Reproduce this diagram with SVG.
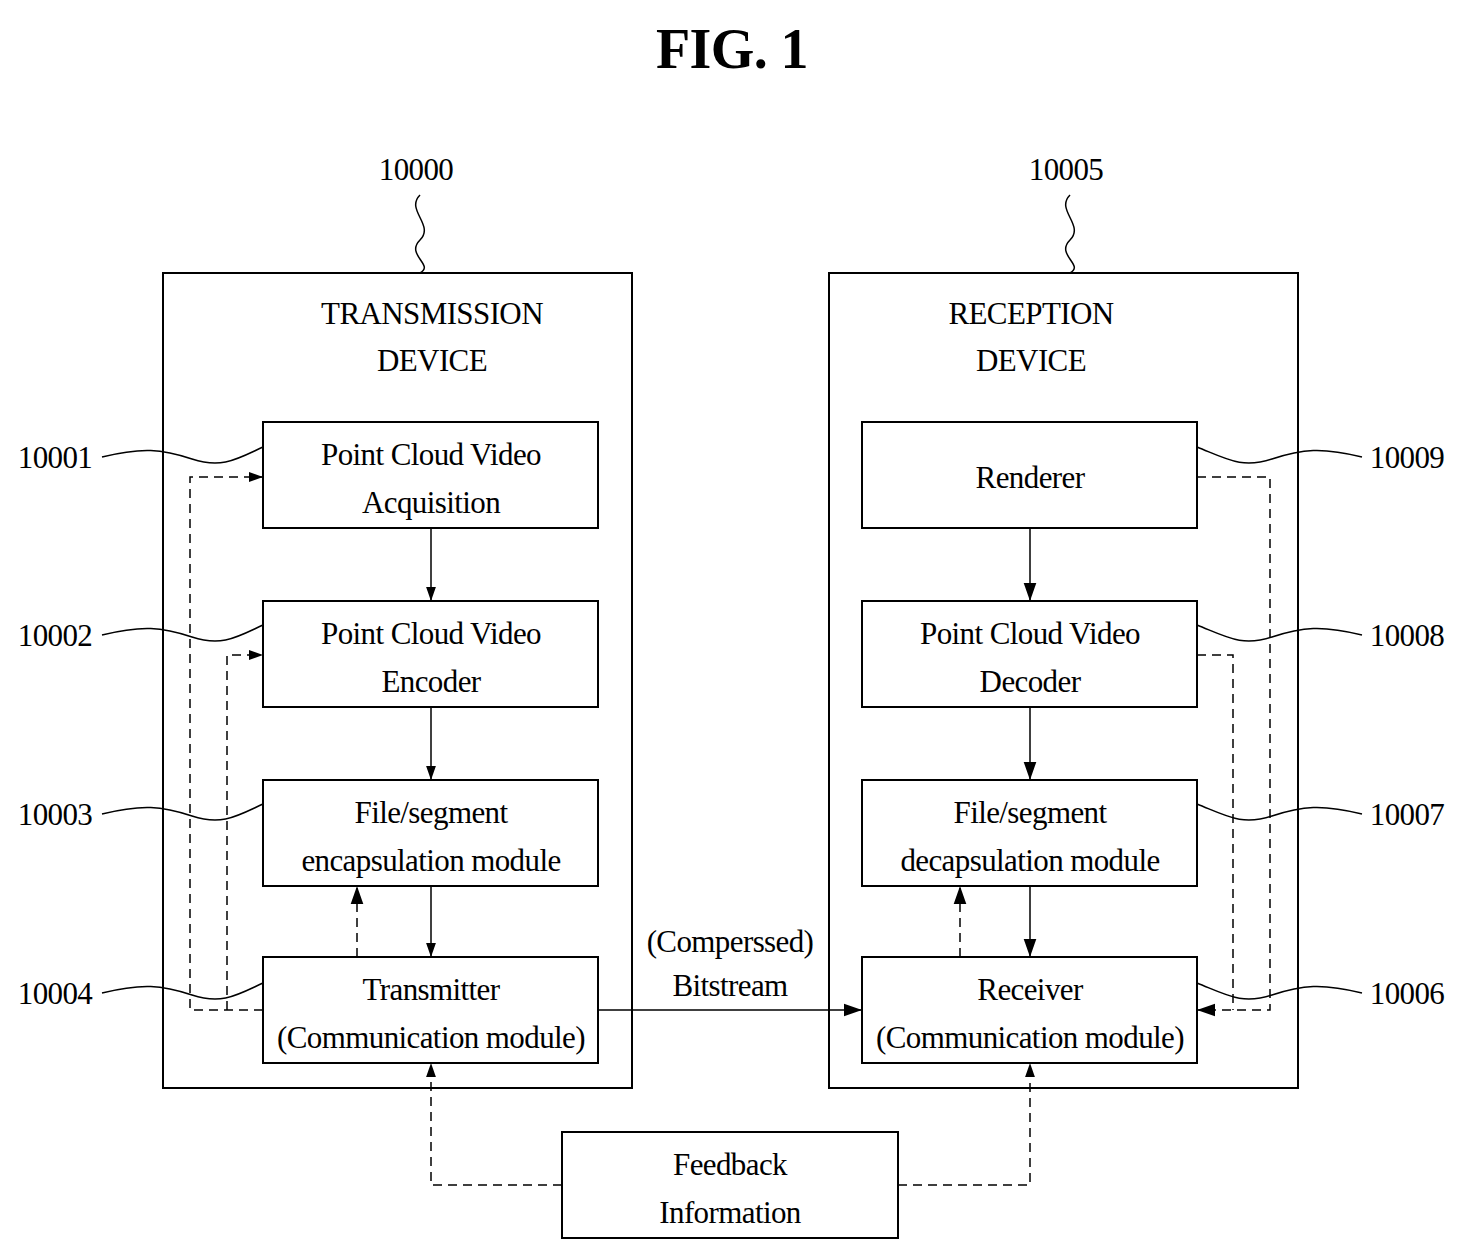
<svg xmlns="http://www.w3.org/2000/svg" width="1464" height="1260" viewBox="0 0 1464 1260">
<style>
text{font-family:"Liberation Serif",serif;font-size:31px;letter-spacing:-0.6px;fill:#000;text-anchor:middle}
.b{fill:#fff;stroke:#000;stroke-width:2}
.s{fill:none;stroke:#000;stroke-width:1.5}
.d{fill:none;stroke:#000;stroke-width:1.5;stroke-dasharray:9,6}
</style>
<defs><marker id="a" viewBox="0 0 10 10" refX="10" refY="5" markerWidth="14" markerHeight="14" markerUnits="userSpaceOnUse" orient="auto"><path d="M0,1.5L10,5L0,8.5z" fill="#000"/></marker>
<marker id="a2" viewBox="0 0 10 10" refX="10" refY="5" markerWidth="18" markerHeight="18" markerUnits="userSpaceOnUse" orient="auto"><path d="M0,1.5L10,5L0,8.5z" fill="#000"/></marker></defs>
<text x="732" y="68" style="font-size:56px;font-weight:bold">FIG. 1</text>
<g id="tx"><rect class="b" x="163" y="273" width="469" height="815"/><text x="432" y="324">TRANSMISSION</text><text x="432" y="371">DEVICE</text></g>
<g id="rx"><rect class="b" x="829" y="273" width="469" height="815"/><text x="1031" y="324">RECEPTION</text><text x="1031" y="371">DEVICE</text></g>
<g id="n1"><rect class="b" x="263" y="422" width="335" height="106"/><text x="431" y="465">Point Cloud Video</text><text x="431" y="513">Acquisition</text></g>
<g id="n2"><rect class="b" x="263" y="601" width="335" height="106"/><text x="431" y="644">Point Cloud Video</text><text x="431" y="692">Encoder</text></g>
<g id="n3"><rect class="b" x="263" y="780" width="335" height="106"/><text x="431" y="823">File/segment</text><text x="431" y="871">encapsulation module</text></g>
<g id="n4"><rect class="b" x="263" y="957" width="335" height="106"/><text x="431" y="1000">Transmitter</text><text x="431" y="1048">(Communication module)</text></g>
<g id="n9"><rect class="b" x="862" y="422" width="335" height="106"/><text x="1030" y="488">Renderer</text></g>
<g id="n8"><rect class="b" x="862" y="601" width="335" height="106"/><text x="1030" y="644">Point Cloud Video</text><text x="1030" y="692">Decoder</text></g>
<g id="n7"><rect class="b" x="862" y="780" width="335" height="106"/><text x="1030" y="823">File/segment</text><text x="1030" y="871">decapsulation module</text></g>
<g id="n6"><rect class="b" x="862" y="957" width="335" height="106"/><text x="1030" y="1000">Receiver</text><text x="1030" y="1048">(Communication module)</text></g>
<g id="fb"><rect class="b" x="562" y="1132" width="336" height="106"/><text x="730" y="1175">Feedback</text><text x="730" y="1223">Information</text></g>
<g id="labels">
<text x="416" y="180">10000</text><text x="1066" y="180">10005</text>
<text x="55" y="468">10001</text><text x="55" y="646">10002</text><text x="55" y="825">10003</text><text x="55" y="1004">10004</text>
<text x="1407" y="468">10009</text><text x="1407" y="646">10008</text><text x="1407" y="825">10007</text><text x="1407" y="1004">10006</text>
<text x="730" y="952">(Comperssed)</text><text x="730" y="996">Bitstream</text>
</g>
<g id="connectors">
<path class="s" d="M420,195c-15,15,15,30,0,45s15,25,0,33"/>
<path class="s" d="M1070,195c-15,15,15,30,0,45s15,25,0,33"/>
<path class="s" d="M102,457c40,-10,60,-8,90,2s45,0,71,-12"/>
<path class="s" d="M102,635c40,-10,60,-8,90,2s45,0,71,-12"/>
<path class="s" d="M102,814c40,-10,60,-8,90,2s45,0,71,-12"/>
<path class="s" d="M102,993c40,-10,60,-8,90,2s45,0,71,-12"/>
<path class="s" d="M1362,457c-40,-10,-60,-8,-90,2s-45,0,-75,-12"/>
<path class="s" d="M1362,635c-40,-10,-60,-8,-90,2s-45,0,-75,-12"/>
<path class="s" d="M1362,814c-40,-10,-60,-8,-90,2s-45,0,-75,-12"/>
<path class="s" d="M1362,993c-40,-10,-60,-8,-90,2s-45,0,-75,-12"/>
<path class="s" marker-end="url(#a)" d="M431,528V601"/>
<path class="s" marker-end="url(#a)" d="M431,707V780"/>
<path class="s" marker-end="url(#a)" d="M431,886V957"/>
<path class="s" marker-end="url(#a2)" d="M1030,528V601"/>
<path class="s" marker-end="url(#a2)" d="M1030,707V780"/>
<path class="s" marker-end="url(#a2)" d="M1030,886V957"/>
<path class="s" marker-end="url(#a2)" d="M598,1010H862"/>
<path class="d" marker-end="url(#a)" d="M263,1010H190V477H263"/>
<path class="d" marker-end="url(#a)" d="M227,1010V655H263"/>
<path class="d" marker-end="url(#a2)" d="M357,957V886"/>
<path class="d" marker-end="url(#a2)" d="M1197,477H1270V1010H1197"/>
<path class="d" d="M1197,655H1233V1010"/>
<path class="d" marker-end="url(#a2)" d="M960,957V886"/>
<path class="d" marker-end="url(#a)" d="M562,1185H431V1063"/>
<path class="d" marker-end="url(#a)" d="M898,1185H1030V1063"/>
</g>
</svg>
